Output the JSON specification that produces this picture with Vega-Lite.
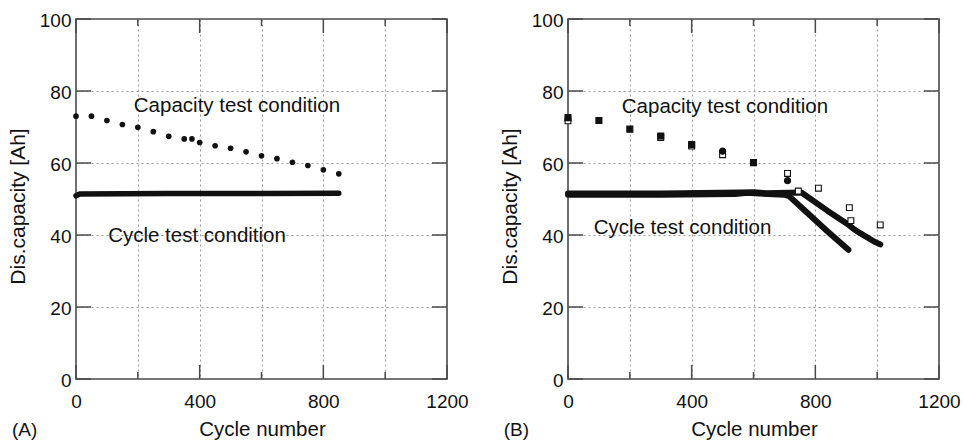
{
  "$schema": "https://vega.github.io/schema/vega-lite/v6.json",
  "background": "white",
  "padding": {"left": 6, "top": 10, "right": 0, "bottom": 0},
  "bounds": "flush",
  "spacing": 121,
  "config": {
    "font": "Liberation Sans",
    "view": {"stroke": "#4a4a4a", "strokeWidth": 1.6},
    "axis": {
      "labelFont": "Liberation Sans",
      "titleFont": "Liberation Sans",
      "labelFontSize": 19,
      "labelColor": "#111111",
      "titleColor": "#111111",
      "titleFontWeight": "normal",
      "gridColor": "#9a9a9a",
      "gridDash": [2, 3],
      "gridWidth": 1
    }
  },
  "datasets": {
    "capA": [
      {"c": 0, "v": 73.0}, {"c": 50, "v": 73.0}, {"c": 100, "v": 71.8}, {"c": 150, "v": 70.7},
      {"c": 200, "v": 69.9}, {"c": 250, "v": 68.7}, {"c": 300, "v": 67.4}, {"c": 350, "v": 66.7},
      {"c": 375, "v": 66.7}, {"c": 400, "v": 65.7}, {"c": 450, "v": 64.8}, {"c": 500, "v": 64.1},
      {"c": 550, "v": 63.1}, {"c": 600, "v": 62.0}, {"c": 650, "v": 61.2}, {"c": 700, "v": 60.2},
      {"c": 750, "v": 59.3}, {"c": 800, "v": 58.1}, {"c": 850, "v": 57.0}
    ],
    "cycA": [
      {"c": 0, "v": 50.9}, {"c": 12, "v": 51.4}, {"c": 300, "v": 51.5}, {"c": 600, "v": 51.5}, {"c": 850, "v": 51.6}
    ],
    "capB": [
      {"c": 0, "v": 71.7, "marker": "open square"},
      {"c": 300, "v": 67.1, "marker": "open square"},
      {"c": 400, "v": 64.7, "marker": "open square"},
      {"c": 500, "v": 62.3, "marker": "open square"},
      {"c": 710, "v": 57.1, "marker": "open square"},
      {"c": 745, "v": 52.2, "marker": "open square"},
      {"c": 810, "v": 53.0, "marker": "open square"},
      {"c": 910, "v": 47.6, "marker": "open square"},
      {"c": 915, "v": 44.0, "marker": "open square"},
      {"c": 1010, "v": 42.8, "marker": "open square"},
      {"c": 0, "v": 72.6, "marker": "filled square"},
      {"c": 100, "v": 71.8, "marker": "filled square"},
      {"c": 200, "v": 69.4, "marker": "filled square"},
      {"c": 300, "v": 67.5, "marker": "filled square"},
      {"c": 400, "v": 65.1, "marker": "filled square"},
      {"c": 600, "v": 60.1, "marker": "filled square"},
      {"c": 500, "v": 63.3, "marker": "filled circle"},
      {"c": 710, "v": 55.1, "marker": "filled circle"}
    ],
    "cycB": [
      {"cell": "1", "c": 0, "v": 51.2}, {"cell": "1", "c": 300, "v": 51.2}, {"cell": "1", "c": 540, "v": 51.4},
      {"cell": "1", "c": 580, "v": 51.7}, {"cell": "1", "c": 620, "v": 51.5}, {"cell": "1", "c": 700, "v": 51.2},
      {"cell": "1", "c": 715, "v": 50.8}, {"cell": "1", "c": 772, "v": 46.3}, {"cell": "1", "c": 837, "v": 41.2},
      {"cell": "1", "c": 907, "v": 35.9},
      {"cell": "2", "c": 0, "v": 51.5}, {"cell": "2", "c": 300, "v": 51.5}, {"cell": "2", "c": 560, "v": 51.8},
      {"cell": "2", "c": 600, "v": 51.9}, {"cell": "2", "c": 640, "v": 51.6}, {"cell": "2", "c": 755, "v": 51.8},
      {"cell": "2", "c": 840, "v": 46.7}, {"cell": "2", "c": 905, "v": 43.0}, {"cell": "2", "c": 925, "v": 41.6},
      {"cell": "2", "c": 945, "v": 40.5}, {"cell": "2", "c": 990, "v": 38.2}, {"cell": "2", "c": 1010, "v": 37.4}
    ],
    "annA": [
      {"c": 187, "v": 74.1, "t": "Capacity test condition"},
      {"c": 104, "v": 38.0, "t": "Cycle test condition"}
    ],
    "annB": [
      {"c": 174, "v": 73.8, "t": "Capacity test condition"},
      {"c": 83, "v": 40.3, "t": "Cycle test condition"}
    ],
    "labA": [{"c": -207, "v": -15.8, "t": "(A)"}],
    "labB": [{"c": -208, "v": -15.8, "t": "(B)"}],
    "xt": [
      {"c": 0, "kind": "major"}, {"c": 200, "kind": "minor"}, {"c": 400, "kind": "major"}, {"c": 600, "kind": "minor"},
      {"c": 800, "kind": "major"}, {"c": 1000, "kind": "minor"}, {"c": 1200, "kind": "major"}
    ],
    "yt": [{"v": 0}, {"v": 20}, {"v": 40}, {"v": 60}, {"v": 80}, {"v": 100}]
  },
  "hconcat": [
    {
      "width": 371,
      "height": 360,
      "layer": [
        {
          "data": {"name": "cycA"},
          "mark": {"type": "line", "color": "#111111", "strokeWidth": 5.5, "strokeCap": "round", "strokeJoin": "round"},
          "encoding": {
            "x": {"field": "c", "type": "quantitative", "scale": {"domain": [0, 1200], "nice": false, "zero": false},
                  "axis": {"orient": "bottom", "values": [0, 200, 400, 600, 800, 1000, 1200], "grid": true,
                           "gridOpacity": {"condition": {"test": "datum.value === 0 || datum.value === 1200", "value": 0}, "value": 1},
                           "ticks": false, "domain": false,
                           "labelExpr": "datum.value % 400 === 0 ? format(datum.value, 'd') : ''",
                           "labelPadding": 13, "labelFlush": false, "labelOverlap": false,
                           "title": "Cycle number", "titleFontSize": 20.5, "titleX": 186, "titleY": 56, "titleBaseline": "alphabetic"}},
            "y": {"field": "v", "type": "quantitative", "scale": {"domain": [0, 100], "nice": false},
                  "axis": {"orient": "left", "values": [0, 20, 40, 60, 80, 100], "grid": true,
                           "gridOpacity": {"condition": {"test": "datum.value === 0 || datum.value === 100", "value": 0}, "value": 1},
                           "ticks": false, "domain": false,
                           "labelPadding": 5, "labelOffset": 1, "labelFlush": false, "labelOverlap": false,
                           "title": "Dis.capacity [Ah]", "titleFontSize": 21, "titleX": -58, "titleY": 187, "titleBaseline": "middle", "titleAngle": 270}}
          }
        },
        {
          "data": {"name": "capA"},
          "mark": {"type": "point", "shape": "circle", "filled": true, "color": "#111111", "size": 32, "opacity": 1},
          "encoding": {
            "x": {"field": "c", "type": "quantitative"},
            "y": {"field": "v", "type": "quantitative"}
          }
        },
        {
          "data": {"name": "annA"},
          "mark": {"type": "text", "align": "left", "baseline": "alphabetic", "fontSize": 20.5, "color": "#111111"},
          "encoding": {
            "x": {"field": "c", "type": "quantitative"},
            "y": {"field": "v", "type": "quantitative"},
            "text": {"field": "t", "type": "nominal"}
          }
        },
        {
          "data": {"name": "labA"},
          "mark": {"type": "text", "align": "left", "baseline": "alphabetic", "fontSize": 19, "color": "#111111"},
          "encoding": {
            "x": {"field": "c", "type": "quantitative"},
            "y": {"field": "v", "type": "quantitative"},
            "text": {"field": "t", "type": "nominal"}
          }
        },
        {
          "data": {"name": "xt"},
          "transform": [{"filter": "datum.kind === 'major'"}],
          "mark": {"type": "rule", "color": "#4a4a4a", "strokeWidth": 1.5},
          "encoding": {"x": {"field": "c", "type": "quantitative"}, "y": {"datum": 0}, "y2": {"datum": 3.9}}
        },
        {
          "data": {"name": "xt"},
          "transform": [{"filter": "datum.kind === 'minor'"}],
          "mark": {"type": "rule", "color": "#4a4a4a", "strokeWidth": 1.5},
          "encoding": {"x": {"field": "c", "type": "quantitative"}, "y": {"datum": 0}, "y2": {"datum": 1.95}}
        },
        {
          "data": {"name": "xt"},
          "transform": [{"filter": "datum.kind === 'major'"}],
          "mark": {"type": "rule", "color": "#4a4a4a", "strokeWidth": 1.5},
          "encoding": {"x": {"field": "c", "type": "quantitative"}, "y": {"datum": 100}, "y2": {"datum": 96.1}}
        },
        {
          "data": {"name": "xt"},
          "transform": [{"filter": "datum.kind === 'minor'"}],
          "mark": {"type": "rule", "color": "#4a4a4a", "strokeWidth": 1.5},
          "encoding": {"x": {"field": "c", "type": "quantitative"}, "y": {"datum": 100}, "y2": {"datum": 98.05}}
        },
        {
          "data": {"name": "yt"},
          "mark": {"type": "rule", "color": "#4a4a4a", "strokeWidth": 1.5},
          "encoding": {"y": {"field": "v", "type": "quantitative"}, "x": {"datum": 0}, "x2": {"datum": 48.5}}
        },
        {
          "data": {"name": "yt"},
          "mark": {"type": "rule", "color": "#4a4a4a", "strokeWidth": 1.5},
          "encoding": {"y": {"field": "v", "type": "quantitative"}, "x": {"datum": 1200}, "x2": {"datum": 1151.5}}
        }
      ]
    },
    {
      "width": 371,
      "height": 360,
      "layer": [
        {
          "data": {"name": "cycB"},
          "mark": {"type": "line", "color": "#111111", "strokeWidth": 6, "strokeCap": "round", "strokeJoin": "round"},
          "encoding": {
            "x": {"field": "c", "type": "quantitative", "scale": {"domain": [0, 1200], "nice": false, "zero": false},
                  "axis": {"orient": "bottom", "values": [0, 200, 400, 600, 800, 1000, 1200], "grid": true,
                           "gridOpacity": {"condition": {"test": "datum.value === 0 || datum.value === 1200", "value": 0}, "value": 1},
                           "ticks": false, "domain": false,
                           "labelExpr": "datum.value % 400 === 0 ? format(datum.value, 'd') : ''",
                           "labelPadding": 13, "labelFlush": false, "labelOverlap": false,
                           "title": "Cycle number", "titleFontSize": 20.5, "titleX": 186, "titleY": 56, "titleBaseline": "alphabetic"}},
            "y": {"field": "v", "type": "quantitative", "scale": {"domain": [0, 100], "nice": false},
                  "axis": {"orient": "left", "values": [0, 20, 40, 60, 80, 100], "grid": true,
                           "gridOpacity": {"condition": {"test": "datum.value === 0 || datum.value === 100", "value": 0}, "value": 1},
                           "ticks": false, "domain": false,
                           "labelPadding": 5, "labelOffset": 1, "labelFlush": false, "labelOverlap": false,
                           "title": "Dis.capacity [Ah]", "titleFontSize": 21, "titleX": -58, "titleY": 187, "titleBaseline": "middle", "titleAngle": 270}},
            "detail": {"field": "cell", "type": "nominal"}
          }
        },
        {
          "data": {"name": "capB"},
          "mark": {"type": "point", "filled": true, "stroke": "#111111", "strokeWidth": 1.1, "opacity": 1},
          "encoding": {
            "x": {"field": "c", "type": "quantitative"},
            "y": {"field": "v", "type": "quantitative"},
            "shape": {"field": "marker", "type": "nominal", "scale": {"domain": ["open square", "filled square", "filled circle"], "range": ["square", "square", "circle"]}, "legend": null},
            "fill": {"field": "marker", "type": "nominal", "scale": {"domain": ["open square", "filled square", "filled circle"], "range": ["#ffffff", "#111111", "#111111"]}, "legend": null},
            "size": {"field": "marker", "type": "ordinal", "scale": {"domain": ["open square", "filled square", "filled circle"], "range": [34, 38, 20]}, "legend": null}
          }
        },
        {
          "data": {"name": "annB"},
          "mark": {"type": "text", "align": "left", "baseline": "alphabetic", "fontSize": 20.5, "color": "#111111"},
          "encoding": {
            "x": {"field": "c", "type": "quantitative"},
            "y": {"field": "v", "type": "quantitative"},
            "text": {"field": "t", "type": "nominal"}
          }
        },
        {
          "data": {"name": "labB"},
          "mark": {"type": "text", "align": "left", "baseline": "alphabetic", "fontSize": 19, "color": "#111111"},
          "encoding": {
            "x": {"field": "c", "type": "quantitative"},
            "y": {"field": "v", "type": "quantitative"},
            "text": {"field": "t", "type": "nominal"}
          }
        },
        {
          "data": {"name": "xt"},
          "transform": [{"filter": "datum.kind === 'major'"}],
          "mark": {"type": "rule", "color": "#4a4a4a", "strokeWidth": 1.5},
          "encoding": {"x": {"field": "c", "type": "quantitative"}, "y": {"datum": 0}, "y2": {"datum": 3.9}}
        },
        {
          "data": {"name": "xt"},
          "transform": [{"filter": "datum.kind === 'minor'"}],
          "mark": {"type": "rule", "color": "#4a4a4a", "strokeWidth": 1.5},
          "encoding": {"x": {"field": "c", "type": "quantitative"}, "y": {"datum": 0}, "y2": {"datum": 1.95}}
        },
        {
          "data": {"name": "xt"},
          "transform": [{"filter": "datum.kind === 'major'"}],
          "mark": {"type": "rule", "color": "#4a4a4a", "strokeWidth": 1.5},
          "encoding": {"x": {"field": "c", "type": "quantitative"}, "y": {"datum": 100}, "y2": {"datum": 96.1}}
        },
        {
          "data": {"name": "xt"},
          "transform": [{"filter": "datum.kind === 'minor'"}],
          "mark": {"type": "rule", "color": "#4a4a4a", "strokeWidth": 1.5},
          "encoding": {"x": {"field": "c", "type": "quantitative"}, "y": {"datum": 100}, "y2": {"datum": 98.05}}
        },
        {
          "data": {"name": "yt"},
          "mark": {"type": "rule", "color": "#4a4a4a", "strokeWidth": 1.5},
          "encoding": {"y": {"field": "v", "type": "quantitative"}, "x": {"datum": 0}, "x2": {"datum": 48.5}}
        },
        {
          "data": {"name": "yt"},
          "mark": {"type": "rule", "color": "#4a4a4a", "strokeWidth": 1.5},
          "encoding": {"y": {"field": "v", "type": "quantitative"}, "x": {"datum": 1200}, "x2": {"datum": 1151.5}}
        }
      ]
    }
  ]
}
